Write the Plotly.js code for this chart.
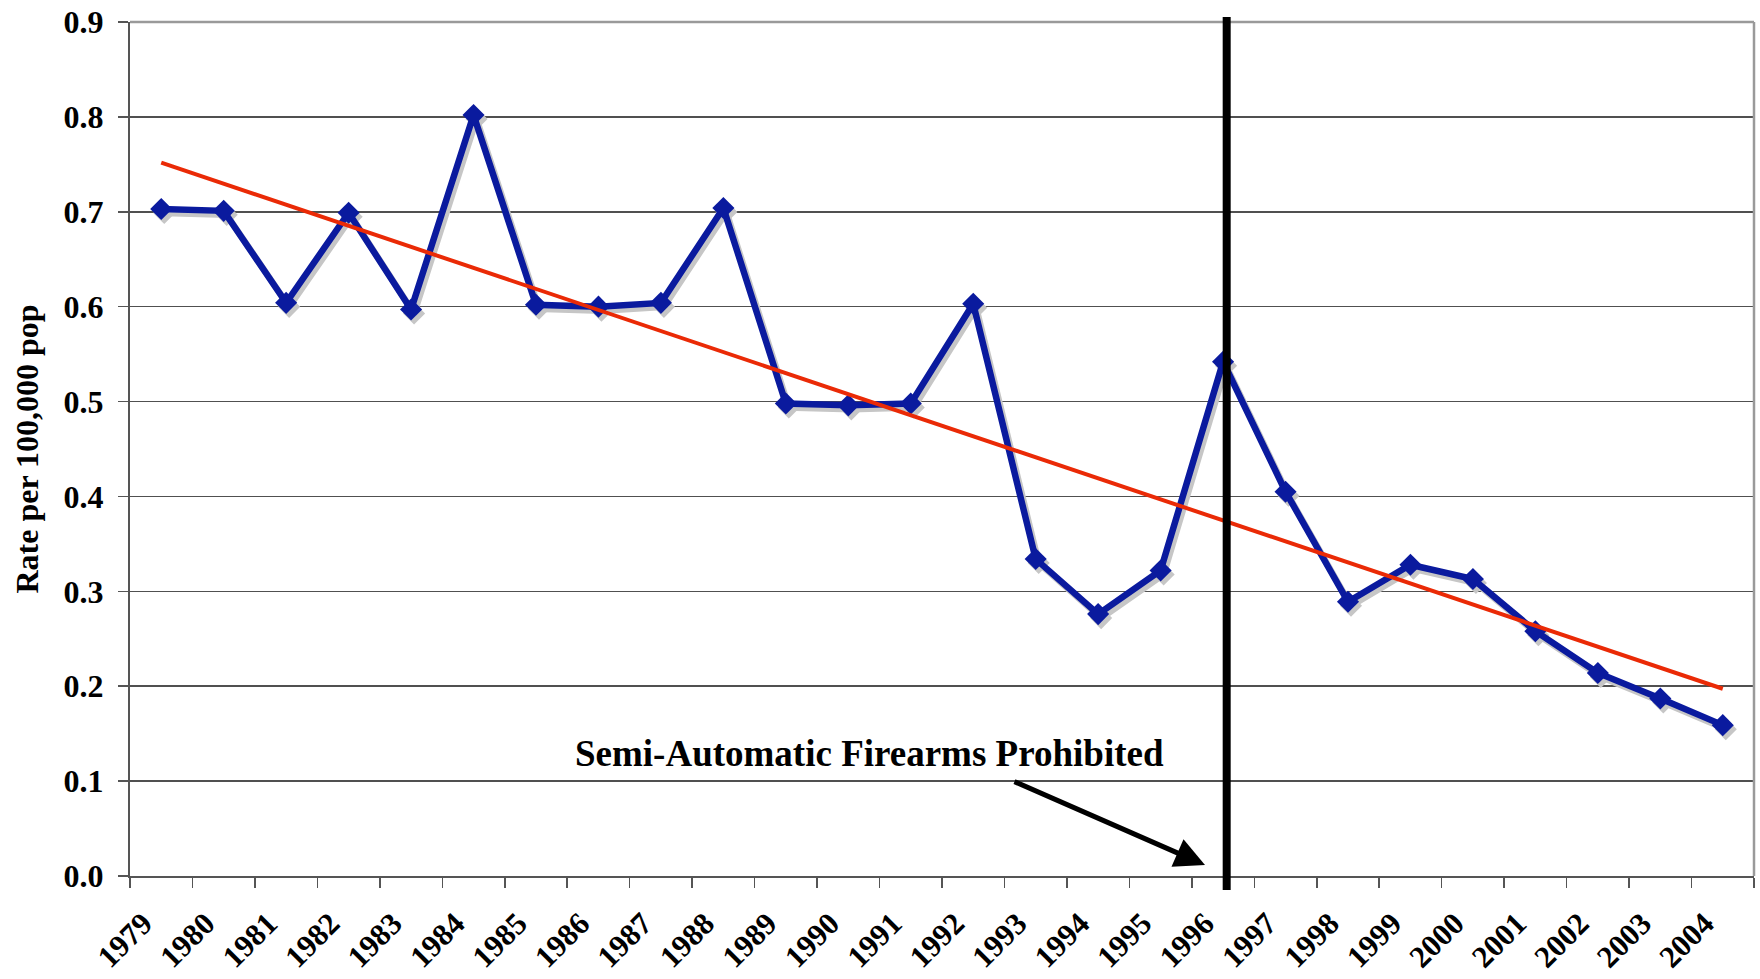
<!DOCTYPE html>
<html>
<head>
<meta charset="utf-8">
<script src="https://cdn.plot.ly/plotly-3.0.1.min.js"></script>
<style>
  html, body { margin: 0; padding: 0; background: #ffffff; }
  #chart { width: 1760px; height: 979px; }
</style>
</head>
<body>
<div id="chart"></div>
<script>
// ---- Data ----
const years = ['1979','1980','1981','1982','1983','1984','1985','1986','1987','1988',
               '1989','1990','1991','1992','1993','1994','1995','1996','1997','1998',
               '1999','2000','2001','2002','2003','2004'];
const rates = [0.703, 0.701, 0.604, 0.699, 0.597, 0.802, 0.602, 0.600, 0.604, 0.704,
               0.498, 0.496, 0.498, 0.603, 0.334, 0.276, 0.322, 0.542, 0.405, 0.289,
               0.328, 0.313, 0.258, 0.214, 0.187, 0.159];
const yTickVals = [0, 0.1, 0.2, 0.3, 0.4, 0.5, 0.6, 0.7, 0.8, 0.9];
const yTickText = ['0.0','0.1','0.2','0.3','0.4','0.5','0.6','0.7','0.8','0.9'];
const yAxisTitle = 'Rate per 100,000 pop';
const eventLabel = 'Semi-Automatic Firearms Prohibited';

// ---- Linear trend (least squares over the category index, as Excel does) ----
const n = rates.length;
const idx = rates.map((_, i) => i + 1);
const mx = idx.reduce((a, b) => a + b, 0) / n;
const my = rates.reduce((a, b) => a + b, 0) / n;
let sxy = 0, sxx = 0;
for (let i = 0; i < n; i++) { sxy += (idx[i] - mx) * (rates[i] - my); sxx += (idx[i] - mx) ** 2; }
const slope = sxy / sxx;
const intercept = my - slope * mx;
const trend = idx.map(x => intercept + slope * x);

// ---- Styling ----
const FONT = '"Liberation Serif", "Times New Roman", Times, serif';
const BLUE = '#0a1a9e';
const SHADOW = '#c6c6c6';
const RED = '#ea2a06';

const plotW = 1760 - 130 - 6;
const plotH = 979 - 22 - 103;
const catPx = plotW / years.length;
const yPxPerUnit = plotH / 0.9;
const shX = 3 / catPx;       // shadow shift right, in category units
const shY = 4 / yPxPerUnit;  // shadow shift down, in data units

const traces = [
  // anchor trace for the visible category axis (not drawn)
  {
    x: years, y: rates, type: 'scatter', mode: 'markers',
    marker: { opacity: 0, size: 1 }, hoverinfo: 'skip', showlegend: false
  },
  // drop shadow of the series
  {
    x: years, y: rates, xaxis: 'x2', yaxis: 'y2',
    type: 'scatter', mode: 'lines+markers',
    line: { color: SHADOW, width: 6.5 },
    marker: { symbol: 'diamond', size: 17, color: SHADOW },
    hoverinfo: 'skip', showlegend: false
  },
  // the series
  {
    x: years, y: rates, xaxis: 'x3', yaxis: 'y3',
    type: 'scatter', mode: 'lines+markers',
    line: { color: BLUE, width: 6.5 },
    marker: { symbol: 'diamond', size: 17, color: BLUE },
    showlegend: false
  },
  // linear trend
  {
    x: years, y: trend, xaxis: 'x3', yaxis: 'y3',
    type: 'scatter', mode: 'lines',
    line: { color: RED, width: 4 },
    showlegend: false
  }
];

const layout = {
  width: 1760, height: 979,
  margin: { l: 130, r: 6, t: 22, b: 103 },
  paper_bgcolor: '#ffffff', plot_bgcolor: '#ffffff',
  font: { family: FONT, color: '#000000' },
  showlegend: false,
  xaxis: {
    type: 'category',
    range: [-0.5, years.length - 0.5],
    tickson: 'boundaries',
    ticks: 'outside', ticklen: 10, tickwidth: 1.5, tickcolor: '#555555',
    showline: true, linecolor: '#555555', linewidth: 2,
    showgrid: false, zeroline: false,
    tickangle: -45,
    ticklabelstandoff: 15,
    ticklabelshift: -18,
    tickfont: { family: FONT, size: 31, weight: 700, color: '#000000' },
    fixedrange: true
  },
  yaxis: {
    range: [0, 0.9],
    tickvals: yTickVals, ticktext: yTickText,
    ticks: 'outside', ticklen: 10, tickwidth: 1.5, tickcolor: '#555555',
    showline: true, linecolor: '#555555', linewidth: 2,
    showgrid: true, gridcolor: '#505050', gridwidth: 1.5,
    zeroline: false,
    ticklabelstandoff: 8,
    tickfont: { family: FONT, size: 32, weight: 700, color: '#000000' },
    title: { text: yAxisTitle, standoff: 15, font: { family: FONT, size: 32, weight: 700, color: '#000000' } },
    fixedrange: true
  },
  xaxis2: {
    type: 'category', overlaying: 'x', anchor: 'y2', visible: false,
    range: [-0.5 - shX, years.length - 0.5 - shX], fixedrange: true
  },
  yaxis2: {
    overlaying: 'y', anchor: 'x2', visible: false,
    range: [0 + shY, 0.9 + shY], fixedrange: true
  },
  xaxis3: {
    type: 'category', overlaying: 'x', anchor: 'y3', visible: false,
    range: [-0.5, years.length - 0.5], fixedrange: true
  },
  yaxis3: {
    overlaying: 'y', anchor: 'x3', visible: false,
    range: [0, 0.9], fixedrange: true
  },
  shapes: [
    { type: 'line', xref: 'paper', yref: 'paper', x0: 0, x1: 1, y0: 1, y1: 1,
      line: { color: '#9a9a9a', width: 2.5 }, layer: 'above' },
    { type: 'line', xref: 'paper', yref: 'paper', x0: 1, x1: 1, y0: 0, y1: 1,
      line: { color: '#9a9a9a', width: 2.5 }, layer: 'above' },
    { type: 'line', xref: 'paper', yref: 'paper', x0: 0.6753, x1: 0.6753, y0: -0.0164, y1: 1.0059,
      line: { color: '#000000', width: 8 }, layer: 'above' }
  ],
  annotations: [
    { xref: 'paper', yref: 'paper', x: 0.4554, y: 0.1429,
      text: '<b>' + eventLabel + '</b>', showarrow: false,
      xanchor: 'center', yanchor: 'middle',
      font: { family: FONT, size: 37, color: '#000000' } },
    { xref: 'paper', yref: 'paper', x: (1205 - 130) / plotW, y: (876 - 865) / plotH,
      text: '', showarrow: true, axref: 'pixel', ayref: 'pixel', ax: -192, ay: -84,
      arrowhead: 2, arrowsize: 1.2, arrowwidth: 5, arrowcolor: '#000000', standoff: 0 }
  ]
};

Plotly.newPlot('chart', traces, layout, { displayModeBar: false, staticPlot: true });
</script>
</body>
</html>
